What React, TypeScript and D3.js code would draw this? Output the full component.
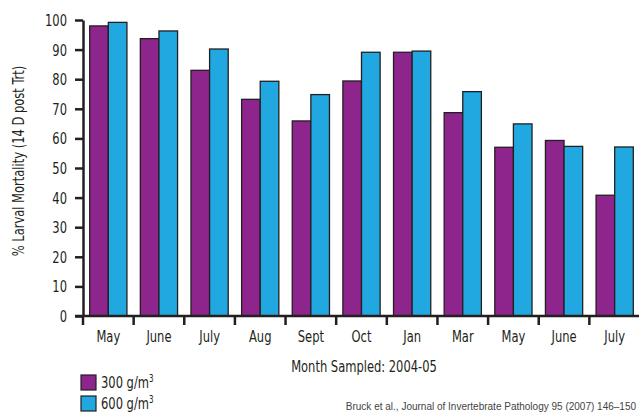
import React, { useEffect, useRef } from 'react';
import * as d3 from 'd3';

const months = ['May', 'June', 'July', 'Aug', 'Sept', 'Oct', 'Jan', 'Mar', 'May', 'June', 'July'];
const low = [98, 93.7, 83, 73.2, 65.9, 79.4, 89.1, 68.7, 57, 59.3, 40.8];
const high = [99.2, 96.3, 90.2, 79.3, 74.8, 89.1, 89.5, 75.8, 64.9, 57.3, 57.1];
const yTicks = [0, 10, 20, 30, 40, 50, 60, 70, 80, 90, 100];
const seriesNames = ['300 g/m', '600 g/m'];
const colors = ['#8e258c', '#22a8e0'];

const FONT = "'DejaVu Sans Condensed', 'Roboto', sans-serif";
const SQ = 0.8; // horizontal squeeze to mimic a condensed face

const App = () => {
    const ref = useRef<SVGSVGElement>(null);

    useEffect(() => {
        const svg = d3.select(ref.current);
        svg.selectAll('*').remove();

        const left = 83, right = 640, top = 20, bottom = 316;

        // condensed label helper
        const label = (px: number, py: number, str: string, anchor: string, rot = 0) =>
            svg.append('text')
                .attr('transform', `translate(${px},${py}) rotate(${rot}) scale(${SQ},1)`)
                .attr('text-anchor', anchor)
                .attr('fill', '#231f20')
                .style('font-family', FONT)
                .style('font-size', '16px')
                .text(str);

        const x = d3.scaleBand<number>()
            .domain(months.map((_, i) => i))
            .range([left, right])
            .paddingInner(0)
            .paddingOuter(0);

        const inner = d3.scaleBand<number>()
            .domain([0, 1])
            .range([0, x.bandwidth()])
            .paddingOuter(0.36)
            .paddingInner(0);

        const y = d3.scaleLinear().domain([0, 100]).range([bottom, top]);

        // bars
        const g = svg.append('g');
        months.forEach((m, i) => {
            [low[i], high[i]].forEach((v, s) => {
                g.append('rect')
                    .attr('x', (x(i) as number) + (inner(s) as number))
                    .attr('y', y(v))
                    .attr('width', inner.bandwidth())
                    .attr('height', y(0) - y(v))
                    .attr('fill', colors[s])
                    .attr('stroke', '#231f20')
                    .attr('stroke-width', 1.3);
            });
        });

        // y axis
        const yAxis = d3.axisLeft(y).tickValues(yTicks).tickSizeInner(8).tickSizeOuter(0).tickFormat(() => '');
        const ya = svg.append('g').attr('transform', `translate(${left},0)`).call(yAxis);
        ya.select('.domain').attr('stroke', '#231f20').attr('stroke-width', 2.5);
        ya.selectAll('.tick line').attr('stroke', '#231f20').attr('stroke-width', 2.5);
        yTicks.forEach(t => label(67, y(t) + 6, String(t), 'end'));

        // x axis (ticks between groups)
        const xa = svg.append('g').attr('transform', `translate(0,${bottom})`);
        xa.append('line')
            .attr('x1', left - 8).attr('x2', right)
            .attr('stroke', '#231f20').attr('stroke-width', 2.5);
        months.forEach((m, i) => {
            const x0 = x(i) as number;
            xa.append('line')
                .attr('x1', x0).attr('x2', x0)
                .attr('y1', 0).attr('y2', 9)
                .attr('stroke', '#231f20').attr('stroke-width', 2.5);
            label(x0 + x.bandwidth() / 2, bottom + 26, m, 'middle');
        });

        // axis titles
        label(364, 372, 'Month Sampled: 2004-05', 'middle');
        label(24, 161, '% Larval Mortality (14 D post Trt)', 'middle', -90);

        // legend
        seriesNames.forEach((name, s) => {
            const ly = 375 + s * 21;
            svg.append('rect')
                .attr('x', 81).attr('y', ly)
                .attr('width', 15).attr('height', 15)
                .attr('fill', colors[s])
                .attr('stroke', '#231f20').attr('stroke-width', 1.2);
            const t = label(101, ly + 13, name, 'start');
            t.append('tspan').attr('dy', -6).style('font-size', '10px').text('3');
        });

        // citation
        svg.append('text')
            .attr('x', 636).attr('y', 410)
            .attr('text-anchor', 'end')
            .attr('fill', '#444')
            .style('font-family', "'Liberation Sans', sans-serif")
            .style('font-size', '10px')
            .text('Bruck et al., Journal of Invertebrate Pathology 95 (2007) 146–150');
    }, []);

    return (
        <svg ref={ref} width={639} height={414}
            style={{ position: 'absolute', left: 0, top: 0, background: '#fff' }} />
    );
};

export default App;
